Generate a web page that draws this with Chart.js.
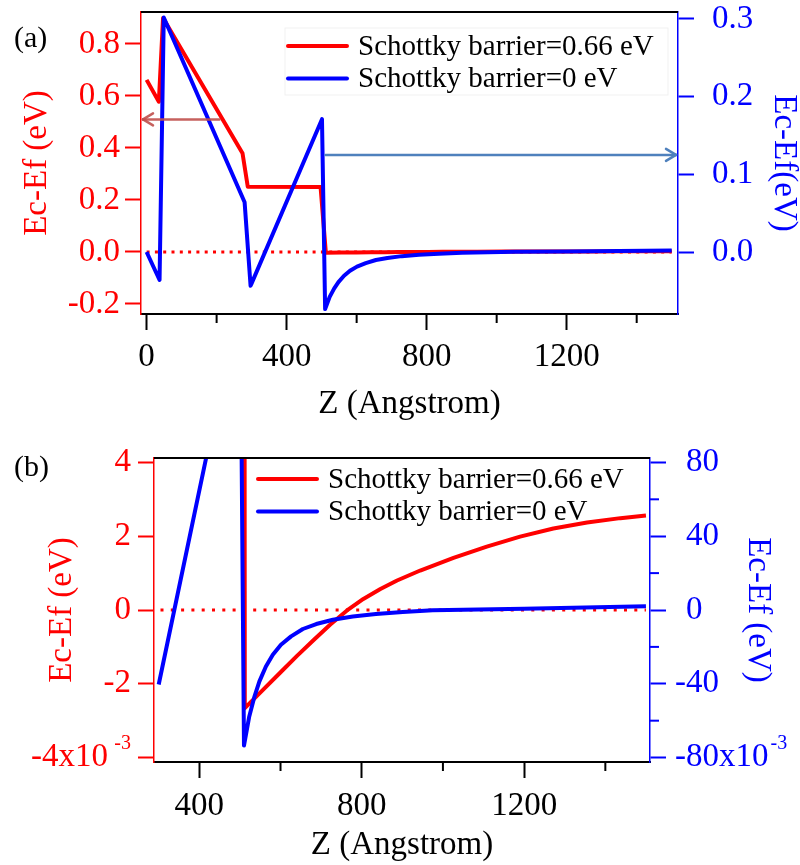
<!DOCTYPE html>
<html>
<head>
<meta charset="utf-8">
<script src="https://cdn.jsdelivr.net/npm/chart.js@4.4.1/dist/chart.umd.min.js"></script>
<style>
  body { margin: 0; background: #fff; }
  canvas { position: absolute; left: 0; }
  #chartA { top: 0; }
  #chartB { top: 430px; }
</style>
</head>
<body>
<canvas id="chartA" width="800" height="430"></canvas>
<canvas id="chartB" width="800" height="435"></canvas>
<script>
const seriesNames = ["Schottky barrier=0.66 eV", "Schottky barrier=0 eV"];

// Z in Angstrom, Ec-Ef in eV
const zRed = [0, 35, 47, 274, 289, 497, 512, 558, 599, 640, 681, 722, 763, 804, 846, 887, 944, 1026, 1108, 1190, 1272, 1355, 1437, 1500];
const eRed = [0.662, 0.578, 0.90, 0.38, 0.251, 0.25, -0.00266, -0.00215, -0.0017, -0.00125, -0.00082, -0.0004, -0.00002, 0.0003, 0.00057, 0.0008, 0.00107, 0.00141, 0.00172, 0.00199, 0.00221, 0.00237, 0.00249, 0.00256];

const zBlue = [0, 37, 49, 280, 297, 300, 501, 510, 523, 536, 548, 564, 581, 601, 626, 655, 688, 729, 778, 835, 901, 975, 1050, 1200, 1350, 1500];
const eBlue = [0, -0.036, 0.302, 0.064, -0.0435, -0.0404, 0.171, -0.0735, -0.0577, -0.0468, -0.0387, -0.0306, -0.0242, -0.0188, -0.0143, -0.0103, -0.0076, -0.0053, -0.0035, -0.0022, -0.0011, -0.0002, 0.0002, 0.0007, 0.0013, 0.002];

const zZero = [0, 1500];
const eZero = [0, 0];

const ticksXA = [0, 400, 800, 1200];
const minorXA = [200, 600, 1000, 1400];
const ticksLeftA = [-0.2, 0, 0.2, 0.4, 0.6, 0.8];
const ticksRightA = [0, 0.1, 0.2, 0.3];

const ticksXB = [400, 800, 1200];
const minorXB = [600, 1000, 1400];
const ticksLeftB = [-0.004, -0.002, 0, 0.002, 0.004];
const ticksRightB = [-0.08, -0.04, 0, 0.04, 0.08];
const minorRightB = [-0.06, -0.02, 0.02, 0.06];

const serif = "Liberation Serif";
const tickSize = 33;

const decor = {
  id: "decor",
  afterDraw(chart, args, o) {
    const { ctx, chartArea: a, scales } = chart;
    const line = (x1, y1, x2, y2, color, w) => {
      ctx.strokeStyle = color;
      ctx.lineWidth = w;
      ctx.beginPath();
      ctx.moveTo(x1, y1);
      ctx.lineTo(x2, y2);
      ctx.stroke();
    };
    ctx.save();
    line(a.left, a.top, a.right, a.top, "#000", 2);
    o.minorX.forEach(v => {
      const x = scales.x.getPixelForValue(v);
      line(x, a.bottom, x, a.bottom + 9, "#000", 2);
    });
    o.minorRight.forEach(v => {
      const y = scales.y2.getPixelForValue(v);
      line(a.right, y, a.right + 9, y, "#0000ff", 2);
    });

    // arrows pointing at the axis each curve belongs to
    o.arrows.forEach(ar => {
      const y = scales[ar.axis].getPixelForValue(ar.y);
      const x1 = scales.x.getPixelForValue(ar.from);
      const x2 = ar.dir < 0 ? a.left + 2 : a.right - 2;
      ctx.lineCap = "round";
      line(x1, y, x2, y, ar.color, 2.5);
      line(x2, y, x2 - ar.dir * 10, y - 6, ar.color, 2.5);
      line(x2, y, x2 - ar.dir * 10, y + 6, ar.color, 2.5);
    });
    ctx.lineCap = "butt";

    // legend inside the plot
    const lg = o.legend;
    if (lg.box) {
      ctx.strokeStyle = "rgba(0,0,0,0.06)";
      ctx.lineWidth = 1;
      ctx.strokeRect(lg.x - 3, lg.y - 18, 383, 67);
    }
    ctx.font = "29px " + serif;
    ctx.textBaseline = "middle";
    ctx.textAlign = "left";
    [["#ff0000", seriesNames[0]], ["#0000ff", seriesNames[1]]].forEach((s, i) => {
      const y = lg.y + i * lg.dy;
      ctx.lineCap = "round";
      line(lg.x, y, lg.x + 59, y, s[0], 4);
      ctx.fillStyle = "#000";
      ctx.fillText(s[1], lg.x + 70, y + 1);
    });
    ctx.lineCap = "butt";

    // x10^-3 exponents
    if (o.exponent) {
      ctx.font = "20px " + serif;
      ctx.textBaseline = "middle";
      ctx.fillStyle = "#ff0000";
      ctx.textAlign = "right";
      ctx.fillText("-3", a.left - 23, scales.y.getPixelForValue(ticksLeftB[0]) - 14);
      ctx.font = tickSize + "px " + serif;
      const w = ctx.measureText("-80x10").width;
      ctx.font = "20px " + serif;
      ctx.fillStyle = "#0000ff";
      ctx.textAlign = "left";
      ctx.fillText("-3", a.right + 25 + w + 2, scales.y2.getPixelForValue(ticksRightB[0]) - 14);
    }

    ctx.font = "30px " + serif;
    ctx.fillStyle = "#000";
    ctx.textAlign = "left";
    ctx.textBaseline = "middle";
    ctx.fillText(o.panel, 14, o.panelY);
    ctx.restore();
  }
};

function axis(p) {
  return {
    type: "linear",
    position: p.position,
    min: p.min,
    max: p.max,
    afterBuildTicks: s => { s.ticks = p.ticks.map(v => ({ value: v })); },
    afterFit: s => {
      if (p.position === "bottom") s.height = p.size; else s.width = p.size;
      s.paddingTop = s.paddingBottom = s.paddingLeft = s.paddingRight = 0;
    },
    border: { display: true, color: p.color, width: p.borderWidth || 1.5 },
    grid: { drawOnChartArea: false, drawTicks: true, tickLength: 16, tickWidth: 2, tickColor: p.color },
    ticks: {
      color: p.color,
      padding: p.pad,
      font: { family: serif, size: tickSize },
      callback: p.fmt
    },
    title: {
      display: true,
      text: p.title,
      color: p.color,
      font: { family: serif, size: 33, lineHeight: 1 },
      padding: p.titlePad
    }
  };
}

function makeChart(id, c) {
  const pts = (zs, es) => zs.map((z, i) => ({ x: z, y: es[i] })).filter(q => q.x >= c.zStart);
  return new Chart(document.getElementById(id), {
    type: "line",
    data: {
      datasets: [
        { label: seriesNames[1], data: pts(zBlue, eBlue), yAxisID: "y2", borderColor: "#0000ff", borderWidth: 4 },
        { label: seriesNames[0], data: pts(zRed, eRed), yAxisID: "y", borderColor: "#ff0000", borderWidth: 4 },
        { label: "zero", data: zZero.map((z, i) => ({ x: z, y: eZero[i] })), yAxisID: "y", borderColor: "#ff0000", borderWidth: 3, borderDash: c.dash }
      ]
    },
    options: {
      responsive: false,
      animation: false,
      devicePixelRatio: 1,
      layout: { padding: { top: c.top, left: 0, right: 0, bottom: 0 } },
      elements: { point: { radius: 0 }, line: { tension: 0, borderJoinStyle: "round", fill: false } },
      plugins: { legend: { display: false }, tooltip: { enabled: false }, decor: c.decor },
      scales: { x: axis(c.x), y: axis(c.y), y2: axis(c.y2) }
    },
    plugins: [decor]
  });
}

makeChart("chartA", {
  zStart: -Infinity,
  top: 12,
  dash: [3, 5.3],
  x: { position: "bottom", min: -16, max: 1518, ticks: ticksXA, color: "#000", borderWidth: 2, size: 116, pad: 8,
       fmt: v => String(v), title: "Z (Angstrom)", titlePad: { bottom: 9.5 } },
  y: { position: "left", min: -0.2385, max: 0.923, ticks: ticksLeftA, color: "#ff0000", size: 141, pad: 5,
       fmt: v => v.toFixed(1), title: "Ec-Ef (eV)", titlePad: { top: 20.5 } },
  y2: { position: "right", min: -0.0798, max: 0.309, ticks: ticksRightA, color: "#0000ff", size: 122, pad: 18,
        fmt: v => v.toFixed(1), title: "Ec-Ef(eV)", titlePad: { top: 0 } },
  decor: {
    minorX: minorXA, minorRight: [], panel: "(a)", panelY: 39, exponent: false,
    legend: { x: 288, y: 46, dy: 32.5, box: true },
    arrows: [
      { axis: "y", y: 0.51, from: 208, dir: -1, color: "rgba(192,80,77,0.9)" },
      { axis: "y2", y: 0.125, from: 511, dir: 1, color: "#4f81bd" }
    ]
  }
});

makeChart("chartB", {
  zStart: 300,
  top: 28,
  dash: [3, 7.3],
  x: { position: "bottom", min: 288.4, max: 1510, ticks: ticksXB, color: "#000", borderWidth: 2, size: 103, pad: 9,
       fmt: v => String(v), title: "Z (Angstrom)", titlePad: { bottom: 3.5 } },
  y: { position: "left", min: -0.00412, max: 0.00412, ticks: ticksLeftB, color: "#ff0000", size: 154, pad: 7,
       fmt: v => { const n = Math.round(v * 1000); return n === -4 ? "-4x10\u2002\u2009" : String(n); },
       title: "Ec-Ef (eV)", titlePad: { top: 45.5 } },
  y2: { position: "right", min: -0.0824, max: 0.0824, ticks: ticksRightB, color: "#0000ff", size: 150, pad: 9,
        fmt: v => { const n = Math.round(v * 1000); return n === -80 ? "-80x10" : (n < 0 ? String(n) : "\u2004" + n); },
        title: "Ec-Ef (eV)", titlePad: { top: 25.5 } },
  decor: {
    minorX: minorXB, minorRight: minorRightB, panel: "(b)", panelY: 38, exponent: true,
    legend: { x: 258, y: 49, dy: 32.5, box: false },
    arrows: []
  }
});
</script>
</body>
</html>
